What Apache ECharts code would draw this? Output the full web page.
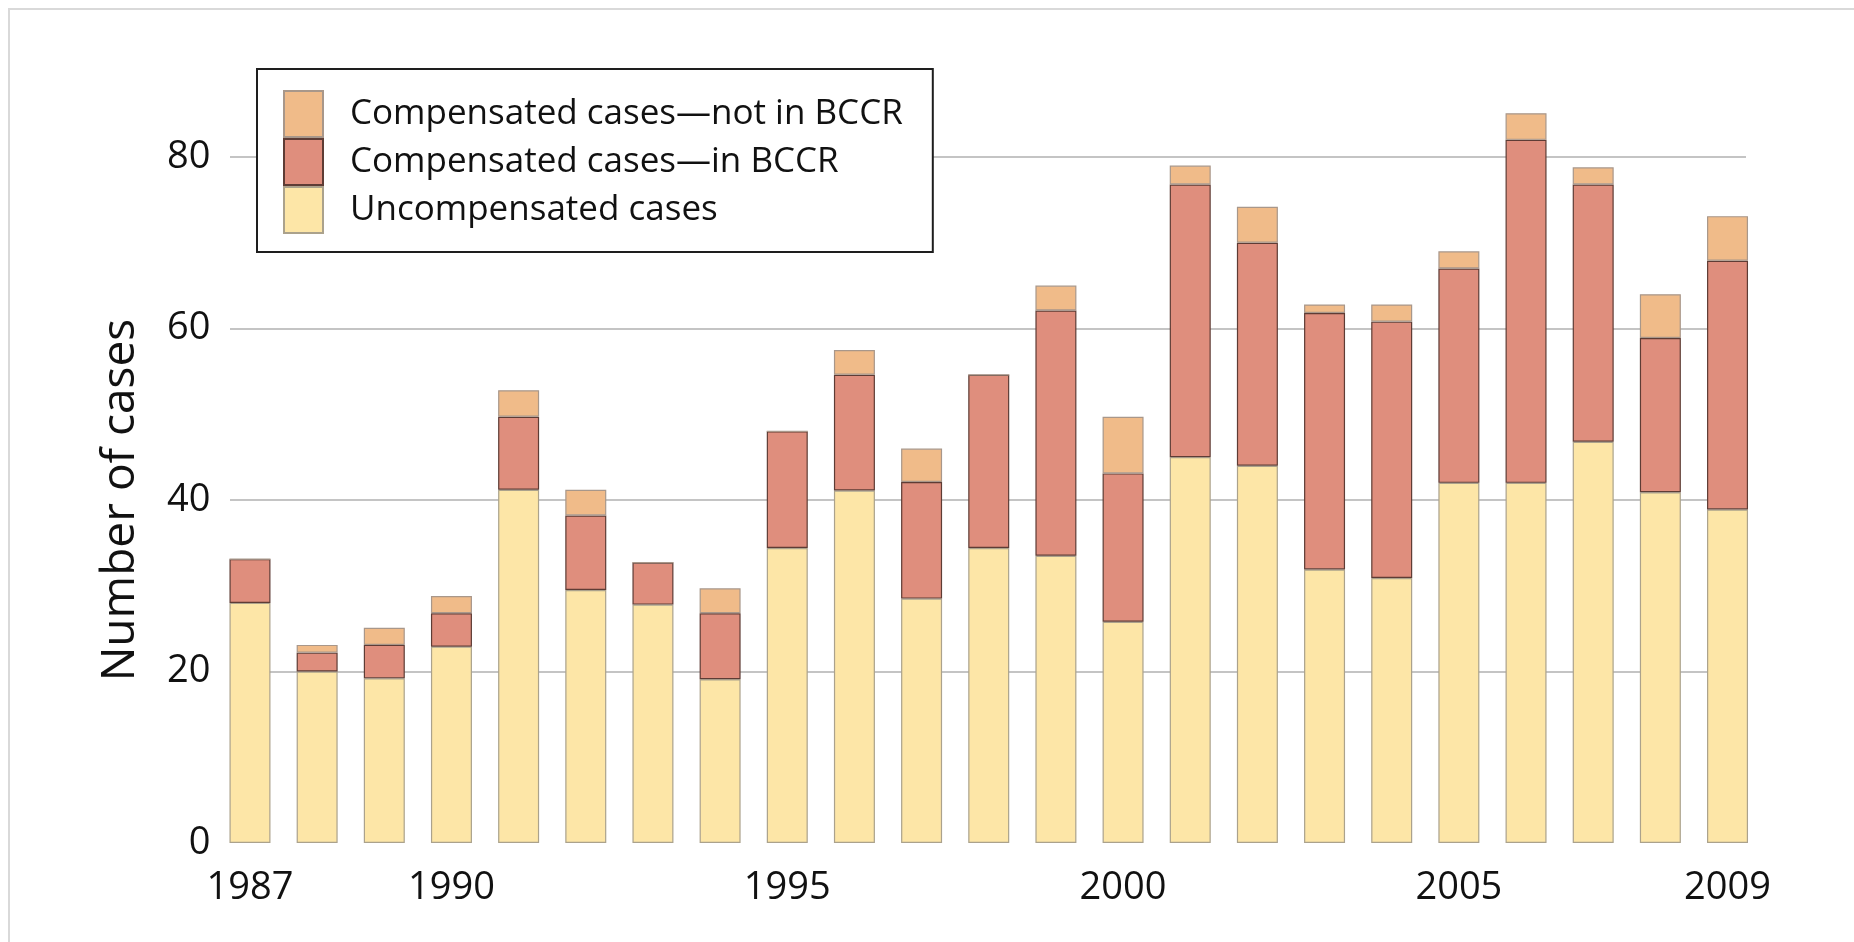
<!DOCTYPE html>
<html>
<head>
<meta charset="utf-8">
<script src="https://cdn.jsdelivr.net/npm/echarts@6/dist/echarts.min.js"></script>
<style>
html,body{margin:0;padding:0;background:#fff;}
#chart{width:1854px;height:942px;}
</style>
</head>
<body>
<div id="chart"></div>
<script>
const years = [1987,1988,1989,1990,1991,1992,1993,1994,1995,1996,1997,1998,1999,2000,2001,2002,2003,2004,2005,2006,2007,2008,2009];
const uncompensated = [28,20,19.2,22.9,41.2,29.5,27.8,19.1,34.4,41.1,28.5,34.4,33.5,25.8,45,44,31.9,30.9,42,42,46.8,40.9,38.9];
const compInBCCR = [5.1,2.2,3.9,3.9,8.5,8.7,4.9,7.7,13.6,13.5,13.6,20.2,28.6,17.3,31.8,26,29.9,29.9,25,40,30,18,29];
const compNotInBCCR = [0,0.9,2,2,3.1,3,0,2.9,0,2.9,3.9,0,2.9,6.6,2.2,4.2,1,2,2,3.1,2,5.1,5.2];
const xTickLabels = ['1987','1990','1995','2000','2005','2009'];
const yTicks = [0,20,40,60,80];
const seriesNames = ['Uncompensated cases','Compensated cases\u2014in BCCR','Compensated cases\u2014not in BCCR'];

const FONT = 'Open Sans';
const categories = years.map(String);
const yMin = yTicks[0], yMax = yTicks[yTicks.length - 1];

const chart = echarts.init(document.getElementById('chart'), null, {renderer: 'canvas'});
const barBase = {type: 'bar', stack: 'total', barWidth: 41, clip: false, xAxisIndex: 0, yAxisIndex: 0, z: 3};
chart.setOption({
  animation: false,
  backgroundColor: '#ffffff',
  graphic: [{
    type: 'rect', z: -10, silent: true,
    shape: {x: 9, y: 9, width: 1900, height: 1000},
    style: {fill: 'none', stroke: '#d9d9d9', lineWidth: 2}
  }],
  grid: [
    {left: 216.4, right: 92.9, top: 157, bottom: 99, containLabel: false},
    {left: 230, right: 108, top: 157, bottom: 99, containLabel: false}
  ],
  legend: {
    orient: 'vertical',
    left: 257, top: 69,
    data: [seriesNames[2], seriesNames[1], seriesNames[0]],
    icon: 'rect',
    itemWidth: 39, itemHeight: 46, itemGap: 0,
    padding: [21, 30, 18, 26],
    backgroundColor: '#ffffff',
    borderColor: '#1e1e1e', borderWidth: 2, borderRadius: 0,
    textStyle: {fontFamily: FONT, fontSize: 35, color: '#111', padding: [0, 0, 0, 22]},
    z: 10
  },
  xAxis: [
    {
      type: 'category', gridIndex: 0, data: categories, boundaryGap: true,
      axisLine: {show: false}, axisTick: {show: false}, splitLine: {show: false},
      axisLabel: {
        interval: (idx, val) => xTickLabels.indexOf(String(val)) >= 0,
        fontFamily: FONT, fontSize: 38, color: '#111', margin: 26
      }
    },
    {
      type: 'value', gridIndex: 1, show: false, min: 0, max: 1
    }
  ],
  yAxis: [
    {
      type: 'value', gridIndex: 0, min: yMin, max: yMax, interval: 20,
      name: 'Number of cases', nameLocation: 'middle', nameGap: 73,
      nameTextStyle: {fontFamily: FONT, fontSize: 46, color: '#111'},
      axisLine: {show: false}, axisTick: {show: false},
      axisLabel: {fontFamily: FONT, fontSize: 38, color: '#111', margin: 6},
      splitLine: {show: false}
    },
    {
      type: 'value', gridIndex: 1, min: yMin, max: yMax, interval: 20,
      axisLine: {show: false}, axisTick: {show: false}, axisLabel: {show: false},
      splitLine: {show: true, lineStyle: {color: ['rgba(0,0,0,0)', '#c4c4c4', '#c4c4c4', '#c4c4c4', '#c4c4c4'], width: 2}},
      z: 0
    }
  ],
  series: [
    Object.assign({}, barBase, {
      name: seriesNames[0], data: uncompensated,
      itemStyle: {color: '#FDE6A7', borderColor: '#ABA28C', borderWidth: 1.2}
    }),
    Object.assign({}, barBase, {
      name: seriesNames[1], data: compInBCCR,
      itemStyle: {color: '#DF8E7D', borderColor: '#5E3C35', borderWidth: 1.2}
    }),
    Object.assign({}, barBase, {
      name: seriesNames[2], data: compNotInBCCR,
      itemStyle: {color: '#F0BB89', borderColor: '#A8978A', borderWidth: 1.2}
    })
  ]
});
</script>
</body>
</html>
